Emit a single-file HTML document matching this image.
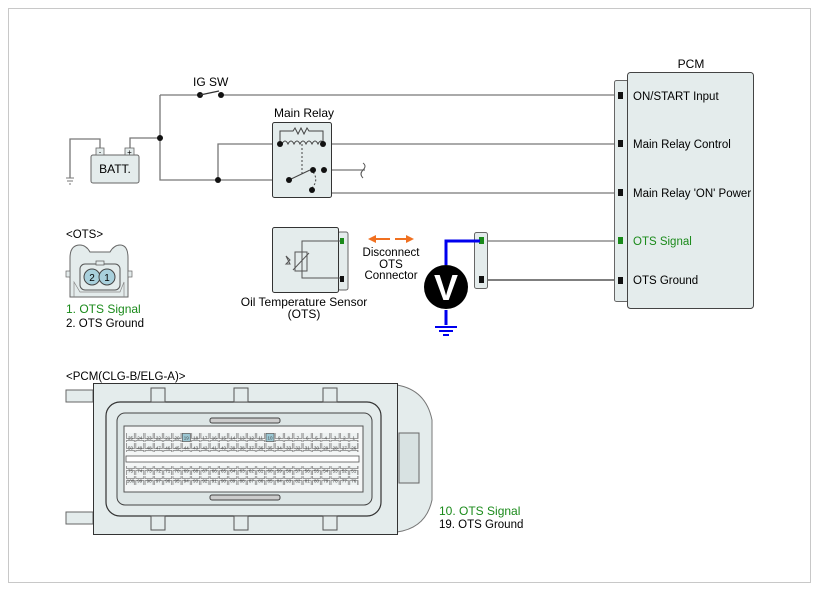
<!DOCTYPE html>
<html><head><meta charset="utf-8"><style>
html,body{margin:0;padding:0;background:#fff}
svg{display:block;font-family:"Liberation Sans",Arial,sans-serif}
</style></head><body>
<svg id="s" width="820" height="591" viewBox="0 0 820 591" xmlns="http://www.w3.org/2000/svg">
<defs>
<pattern id="pin" x="126" y="0" width="9.3" height="10" patternUnits="userSpaceOnUse">
<rect x="0.5" y="0.5" width="8" height="8" fill="#eef2f2" stroke="#777" stroke-width="0.7"/>
</pattern>
</defs>
<rect x="0" y="0" width="820" height="591" fill="#fff"/>
<rect x="8.5" y="8.5" width="802" height="574" fill="none" stroke="#c8c8c8" stroke-width="1"/>

<g stroke="#777" stroke-width="1.3" fill="none">
<polyline points="160,95 160,180 275,180"/>
<line x1="160" y1="95" x2="198" y2="95"/>
<line x1="222" y1="95" x2="614" y2="95"/>
<polyline points="70,178 70,139 100,139 100,150"/>
<polyline points="130,150 130,138 160,138"/>
<polyline points="218,180 218,144 282,144"/>
<line x1="325" y1="144" x2="614" y2="144"/>
<line x1="312" y1="170" x2="365" y2="170"/>
<polyline points="325,170 325,193 614,193"/>
<line x1="488" y1="241" x2="614" y2="241"/>
</g>
<line x1="488" y1="280" x2="614" y2="280" stroke="#333" stroke-width="1.2"/>
<path d="M363,163 q4,3 0,7 q-4,4 0,8" stroke="#555" fill="none" stroke-width="1"/>
<g stroke="#777" stroke-width="1"><line x1="66" y1="178" x2="74" y2="178"/><line x1="67" y1="181" x2="73" y2="181"/><line x1="69" y1="184" x2="71" y2="184"/></g>
<rect x="91" y="155" width="48" height="28" rx="2" fill="#e4ecec" stroke="#666"/>
<rect x="96" y="148" width="8" height="7" fill="#e4ecec" stroke="#666" stroke-width="0.8"/>
<rect x="125" y="148" width="9" height="7" fill="#e4ecec" stroke="#666" stroke-width="0.8"/>
<text x="100" y="154.5" font-size="7" text-anchor="middle">-</text>
<text x="129.5" y="155" font-size="8" text-anchor="middle">+</text>
<text x="115" y="173" font-size="12" text-anchor="middle">BATT.</text>
<g fill="#111"><circle cx="160" cy="138" r="3"/><circle cx="218" cy="180" r="3"/><circle cx="200" cy="95" r="3"/><circle cx="221" cy="95" r="3"/></g>
<line x1="200" y1="95" x2="219" y2="91" stroke="#333" stroke-width="1.2"/>
<text x="193" y="86" font-size="12">IG SW</text>
<text x="304" y="117" font-size="12" text-anchor="middle">Main Relay</text>
<rect x="272.5" y="122.5" width="59" height="75" rx="2" fill="#e4ecec" stroke="#333"/>
<g stroke="#444" fill="none" stroke-width="1">
<polyline points="280,144 280,131 293,131 295,128 298,134 301,128 304,134 307,128 309,131 323,131 323,144"/>
<path d="M282,144 q3,-6 6,0 q3,-6 6,0 q3,-6 6,0 q3,-6 6,0 q3,-6 6,0 q3,-6 6,0 q3,-6 6,0"/>
<line x1="302" y1="144" x2="302" y2="175" stroke-dasharray="2,2"/>
<path d="M313,172 q6,8 -1,16" stroke-dasharray="2,2"/>
<line x1="289" y1="180" x2="310" y2="170"/>
</g>
<g fill="#111"><circle cx="280" cy="144" r="3"/><circle cx="323" cy="144" r="3"/><circle cx="289" cy="180" r="3"/><circle cx="313" cy="170" r="3"/><circle cx="324" cy="170" r="3"/><circle cx="312" cy="190" r="3"/></g>
<text x="691" y="68" font-size="12" text-anchor="middle">PCM</text>
<rect x="614.5" y="80.5" width="14" height="221" rx="2" fill="#e4ecec" stroke="#666"/>
<rect x="627.5" y="72.5" width="126" height="236" rx="3" fill="#e4ecec" stroke="#444"/>
<g fill="#111"><rect x="618" y="92" width="5" height="7"/><rect x="618" y="140" width="5" height="7"/><rect x="618" y="189" width="5" height="7"/><rect x="618" y="277" width="5" height="7"/></g>
<rect x="618" y="237" width="5" height="7" fill="#1a8a1a"/>
<g font-size="11.5"><text x="633" y="100">ON/START Input</text><text x="633" y="148">Main Relay Control</text><text x="633" y="197">Main Relay 'ON' Power</text><text x="633" y="245" fill="#1a8a1a">OTS Signal</text><text x="633" y="284">OTS Ground</text></g>
<rect x="474.5" y="232.5" width="13" height="56" rx="2" fill="#e4ecec" stroke="#666"/>
<rect x="479" y="237" width="5" height="7" fill="#1a8a1a"/>
<rect x="479" y="276" width="5" height="7" fill="#111"/>
<polyline points="480,241 446,241 446,265" stroke="#0000ee" stroke-width="3" fill="none"/>
<line x1="446" y1="310" x2="446" y2="325" stroke="#0000ee" stroke-width="3"/>
<g stroke="#0000ee" stroke-width="2"><line x1="435" y1="327" x2="457" y2="327"/><line x1="439" y1="331" x2="453" y2="331"/><line x1="443" y1="335" x2="449" y2="335"/></g>
<circle cx="446" cy="287" r="22" fill="#000"/>
<text x="446" y="300" font-size="36" font-weight="bold" fill="#fff" text-anchor="middle">V</text>
<g stroke="#f07020" stroke-width="2"><line x1="375" y1="239" x2="390" y2="239"/><line x1="395" y1="239" x2="409" y2="239"/></g>
<polygon points="368,239 376,235 376,243" fill="#f07020"/><polygon points="414,239 406,235 406,243" fill="#f07020"/>
<g font-size="11.5" text-anchor="middle"><text x="391" y="256">Disconnect</text><text x="391" y="268">OTS</text><text x="391" y="279">Connector</text></g>
<rect x="338" y="232" width="10" height="58" rx="2" fill="#e4ecec" stroke="#666"/>
<rect x="272.5" y="227.5" width="66" height="65" rx="2" fill="#e4ecec" stroke="#333"/>
<g stroke="#555" fill="none" stroke-width="1">
<polyline points="342,241 302,241 302,278 342,278"/>
<rect x="295" y="252" width="12" height="19"/><line x1="293" y1="270" x2="309" y2="253"/>
<path d="M286,256 l4,4 l-4,4 l4,0 l-4,-8z"/>
</g>
<rect x="340" y="238" width="4" height="6" fill="#1a8a1a"/><rect x="340" y="276" width="4" height="6" fill="#111"/>
<g font-size="12" text-anchor="middle"><text x="304" y="306">Oil Temperature Sensor</text><text x="304" y="318">(OTS)</text></g>
<text x="66" y="238" font-size="11.5">&lt;OTS&gt;</text>
<path d="M70,297 L70,258 Q70,245 80,245 Q86,245 90,252 L110,252 Q114,245 120,245 Q128,245 128,258 L128,297 Z" fill="#e4ecec" stroke="#666"/>
<rect x="66" y="271" width="4" height="6" fill="#e4ecec" stroke="#666" stroke-width="0.7"/>
<rect x="128" y="271" width="4" height="6" fill="#e4ecec" stroke="#666" stroke-width="0.7"/>
<polyline points="74,297 74,282 80,292 120,292 124,282 124,297" fill="none" stroke="#888" stroke-width="0.7"/>
<rect x="80" y="264" width="40" height="26" rx="5" fill="#e4ecec" stroke="#555"/>
<rect x="96" y="261" width="8" height="4" fill="#e4ecec" stroke="#555" stroke-width="0.7"/>
<circle cx="92" cy="277" r="8" fill="#a8d0dc" stroke="#444"/><circle cx="107" cy="277" r="8" fill="#a8d0dc" stroke="#444"/>
<text x="92" y="281" font-size="10" text-anchor="middle">2</text><text x="107" y="281" font-size="10" text-anchor="middle">1</text>
<text x="66" y="313" font-size="12" fill="#1a8a1a">1. OTS Signal</text>
<text x="66" y="327" font-size="11.5">2. OTS Ground</text>
<text x="66" y="380" font-size="11.5">&lt;PCM(CLG-B/ELG-A)&gt;</text>
<rect x="66" y="390" width="27" height="12" fill="#e4ecec" stroke="#666"/>
<rect x="66" y="512" width="27" height="12" fill="#e4ecec" stroke="#666"/>
<path d="M397,385 Q426,390 432,420 L432,500 Q426,528 397,532 Z" fill="#e4ecec" stroke="#777"/>
<rect x="399" y="433" width="20" height="50" fill="#d8e2e2" stroke="#666"/>
<rect x="93.5" y="383.5" width="304" height="151" fill="#e4ecec" stroke="#333"/>
<rect x="106" y="402" width="275" height="114" rx="14" fill="#e4ecec" stroke="#333" stroke-width="1.2"/>
<rect x="117" y="413" width="255" height="92" rx="8" fill="#dde6e6" stroke="#444"/>
<rect x="124" y="426" width="239" height="66" fill="#f4f6f6" stroke="#555"/>
<rect x="151" y="388" width="14" height="14" fill="#e4ecec" stroke="#555"/><rect x="234" y="388" width="14" height="14" fill="#e4ecec" stroke="#555"/><rect x="323" y="388" width="14" height="14" fill="#e4ecec" stroke="#555"/>
<rect x="151" y="516" width="14" height="14" fill="#e4ecec" stroke="#555"/><rect x="234" y="516" width="14" height="14" fill="#e4ecec" stroke="#555"/><rect x="323" y="516" width="14" height="14" fill="#e4ecec" stroke="#555"/>
<rect x="210" y="418" width="70" height="5" rx="2" fill="#ccc" stroke="#444"/><rect x="210" y="495" width="70" height="5" rx="2" fill="#ccc" stroke="#444"/>
<rect x="126" y="433" width="233" height="9" fill="url(#pin)"/>
<rect x="126" y="443" width="233" height="9" fill="url(#pin)"/>
<rect x="126" y="466" width="233" height="9" fill="url(#pin)"/>
<rect x="126" y="476" width="233" height="9" fill="url(#pin)"/>
<rect x="126" y="456" width="233" height="6" fill="#fff" stroke="#555" stroke-width="0.8"/>
<rect x="182.3" y="433.5" width="8" height="8" fill="#9cc8d4" stroke="#555" stroke-width="0.7"/>
<rect x="266" y="433.5" width="8" height="8" fill="#9cc8d4" stroke="#555" stroke-width="0.7"/>
<g id="nums" font-size="4.5" fill="#444" text-anchor="middle"></g>
<text x="439" y="515" font-size="12" fill="#1a8a1a">10. OTS Signal</text>
<text x="439" y="528" font-size="11.5">19. OTS Ground</text>
</svg>
<script>
(function(){var g=document.getElementById('nums'),ns='http://www.w3.org/2000/svg',rows=[[433,25,1],[443,50,26],[466,75,51],[476,100,76]];
rows.forEach(function(r){for(var i=0;i<25;i++){var t=document.createElementNS(ns,'text');t.setAttribute('x',130.5+i*9.3);t.setAttribute('y',r[0]+6.3);t.textContent=r[1]-i;g.appendChild(t);}});})();
</script>
</body></html>
